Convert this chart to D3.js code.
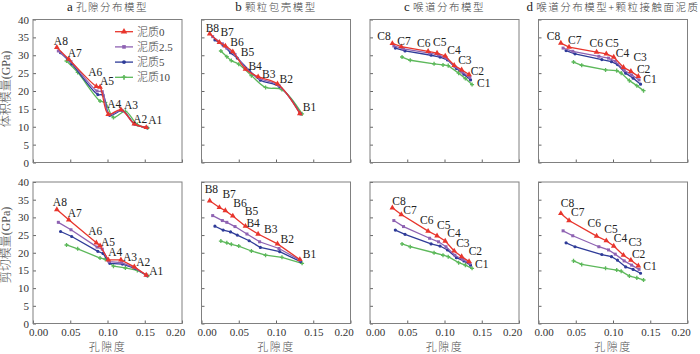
<!DOCTYPE html>
<html>
<head>
<meta charset="utf-8">
<script src="https://cdn.jsdelivr.net/npm/d3@7"></script>
<style>
body { margin: 0; background: #fff; }
svg { display: block; }
</style>
</head>
<body>
<svg id="chart" width="700" height="354"></svg>
<script>
// legend / series
var clayLevels = ["泥质0", "泥质2.5", "泥质5", "泥质10"];
var panelTitles = ["a", "b", "c", "d"];
var panelNames = ["孔隙分布模型", "颗粒包壳模型", "喉道分布模型", "喉道分布模型+颗粒接触面泥质"];
var yTitles = ["体积模量(GPa)", "剪切模量(GPa)"];
var xTitle = "孔隙度";
var xTicks = [0, 0.05, 0.10, 0.15, 0.20];
var yTicks = [0, 5, 10, 15, 20, 25, 30, 35, 40];

var labelsA = ["A8", "A7", "A6", "A5", "A4", "A3", "A2", "A1"];
var labelsB = ["B8", "B7", "B6", "B5", "B4", "B3", "B2", "B1"];
var labelsC = ["C8", "C7", "C6", "C5", "C4", "C3", "C2", "C1"];

// panel a: 孔隙分布模型 (rows: 泥质0, 2.5, 5, 10)
var porosityA = [
    [0.032, 0.048, 0.085, 0.090, 0.101, 0.118, 0.136, 0.152],
    [0.034, 0.051, 0.086, 0.093, 0.102, 0.119, 0.136, 0.152],
    [0.037, 0.052, 0.087, 0.094, 0.103, 0.120, 0.137, 0.153],
    [0.045, 0.060, 0.090, 0.097, 0.108, 0.124, 0.140, 0.154]
];
var bulkA = [
    [32.2, 28.9, 21.3, 21.1, 13.5, 14.8, 10.8, 9.8],
    [31.2, 28.2, 20.0, 19.8, 13.4, 14.6, 10.8, 9.8],
    [30.7, 27.6, 19.0, 18.9, 13.2, 14.5, 10.7, 9.7],
    [28.4, 25.2, 17.2, 16.8, 12.6, 14.3, 10.6, 9.7]
];
var shearA = [
    [32.2, 29.3, 22.8, 22.0, 18.0, 18.0, 16.0, 13.7],
    [28.6, 26.5, 21.6, 21.0, 17.5, 17.2, 15.8, 13.7],
    [26.0, 24.6, 20.4, 19.8, 17.0, 16.8, 15.6, 13.5],
    [22.2, 21.1, 18.5, 18.2, 16.2, 15.7, 15.0, 13.5]
];

// panel b: 颗粒包壳模型
var porosityB = [
    [0.011, 0.024, 0.032, 0.042, 0.059, 0.076, 0.102, 0.132],
    [0.015, 0.028, 0.034, 0.045, 0.061, 0.078, 0.104, 0.132],
    [0.018, 0.029, 0.039, 0.048, 0.064, 0.079, 0.105, 0.133],
    [0.026, 0.034, 0.040, 0.050, 0.067, 0.086, 0.108, 0.135]
];
var bulkB = [
    [36.0, 33.6, 32.6, 31.0, 26.1, 24.0, 22.0, 13.7],
    [35.2, 33.2, 32.0, 30.2, 26.0, 23.5, 21.5, 13.7],
    [34.3, 32.8, 30.7, 29.2, 25.8, 23.0, 21.2, 13.6],
    [31.2, 29.6, 28.5, 27.5, 24.3, 21.0, 20.4, 13.6]
];
var shearB = [
    [34.7, 32.8, 31.9, 30.4, 27.5, 25.3, 22.5, 18.1],
    [30.5, 29.1, 28.6, 27.4, 25.3, 23.1, 21.2, 17.9],
    [27.5, 26.4, 25.9, 25.0, 23.4, 21.5, 20.3, 17.5],
    [23.3, 22.8, 22.4, 21.9, 20.5, 19.3, 18.7, 17.0]
];

// panel c: 喉道分布模型
var porosityC = [
    [0.030, 0.042, 0.078, 0.090, 0.101, 0.113, 0.123, 0.133],
    [0.032, 0.045, 0.080, 0.092, 0.102, 0.114, 0.124, 0.134],
    [0.034, 0.047, 0.082, 0.094, 0.104, 0.116, 0.126, 0.135],
    [0.043, 0.054, 0.086, 0.098, 0.105, 0.119, 0.128, 0.137]
];
var bulkC = [
    [33.3, 32.4, 31.1, 30.6, 29.8, 27.2, 25.9, 24.6],
    [32.6, 31.8, 30.6, 30.1, 29.2, 26.8, 25.3, 23.8],
    [32.0, 31.2, 30.0, 29.5, 28.7, 26.3, 24.7, 23.1],
    [29.5, 28.6, 27.6, 27.3, 27.1, 25.0, 23.5, 21.8]
];
var shearC = [
    [32.7, 30.8, 26.1, 24.8, 23.3, 20.5, 18.9, 17.5],
    [29.1, 27.4, 24.1, 23.1, 21.7, 19.3, 18.1, 17.0],
    [26.4, 25.2, 22.5, 21.9, 20.8, 18.6, 17.7, 16.5],
    [22.5, 21.7, 20.0, 19.3, 18.9, 17.2, 16.5, 15.6]
];

// panel d: 喉道分布模型+颗粒接触面泥质
var porosityD = [
    [0.030, 0.041, 0.078, 0.091, 0.101, 0.114, 0.124, 0.134],
    [0.033, 0.046, 0.081, 0.094, 0.103, 0.115, 0.125, 0.135],
    [0.037, 0.049, 0.085, 0.098, 0.106, 0.117, 0.127, 0.137],
    [0.047, 0.058, 0.090, 0.105, 0.111, 0.122, 0.132, 0.141]
];
var bulkD = [
    [33.4, 32.3, 30.9, 30.4, 29.5, 26.6, 25.5, 24.1],
    [32.0, 31.1, 29.7, 29.2, 28.3, 25.8, 24.5, 23.1],
    [31.3, 30.4, 28.8, 28.2, 27.4, 25.0, 23.6, 21.9],
    [28.1, 27.2, 25.9, 25.7, 25.0, 22.9, 21.5, 20.1]
];
var shearD = [
    [31.1, 29.1, 24.7, 23.4, 21.9, 19.3, 17.9, 16.3],
    [26.2, 24.8, 21.7, 20.8, 19.6, 17.7, 16.5, 15.3],
    [22.8, 21.7, 19.5, 18.9, 17.9, 16.0, 15.3, 14.2],
    [17.7, 16.7, 15.6, 15.1, 14.8, 13.4, 12.9, 12.3]
];

// label nudges (px, relative to the 泥质0 point)
var nudgeTop = [
    [[-3, -2], [-1, -2], [-8, -10], [0, -2], [-1, -6], [3, -1], [-1, -1], [2, -3]],
    [[-4, -2], [1, -6], [5, 0], [8, 4], [3, 1], [4, 1], [2, -1], [3, -3]],
    [[-15, -3], [-4, -2], [-11, -4], [-4, -7], [2, -2], [4, -1], [9, 5], [8, 12]],
    [[-14, -3], [-1, -3], [-7, -5], [-1, -7], [2, 0], [10, -6], [6, 2], [5, 7]]
];
var nudgeBottom = [
    [[-4, -4], [-1, -3], [-8, -8], [1, 0], [0, -4], [2, 1], [2, -1], [3, 0]],
    [[-5, -8], [3, -9], [8, -4], [12, -1], [1, 1], [6, -1], [3, -1], [3, -1]],
    [[0, -3], [2, -1], [-8, -7], [0, -7], [2, -4], [2, -4], [7, -2], [6, 6]],
    [[0, -6], [2, -5], [-9, -9], [-2, -8], [0, -4], [5, -9], [1, -2], [5, 4]]
];

var colors = ["#e8352c", "#8e62b2", "#2e3b98", "#5cb85a"];
var symbols = [d3.symbolTriangle, d3.symbolSquare, d3.symbolCircle, d3.symbolCross];
var symbolSizes = [14, 9, 8, 9];
var serif = "'Liberation Serif', 'DejaVu Serif', 'Noto Sans CJK SC', serif";

var panels = [
    {porosity: porosityA, rows: [bulkA, shearA], labels: labelsA, smooth: true},
    {porosity: porosityB, rows: [bulkB, shearB], labels: labelsB, smooth: true},
    {porosity: porosityC, rows: [bulkC, shearC], labels: labelsC, smooth: false},
    {porosity: porosityD, rows: [bulkD, shearD], labels: labelsC, smooth: false}
];

var svg = d3.select("#chart");
var plotW = 149;
var rowBox = [{top: 19.5, h: 143}, {top: 182, h: 141.5}];

panels.forEach(function(p, i) {
    var left = 33 + i * 168.5;
    var x = d3.scaleLinear().domain([0, 0.2]).range([left, left + plotW]);

    // title
    var t = svg.append("text")
        .attr("x", left + plotW / 2)
        .attr("y", 11)
        .attr("text-anchor", "middle")
        .attr("fill", "#444")
        .style("font-family", serif);
    t.append("tspan").style("font-size", "13px").attr("fill", "#222").text(panelTitles[i] + " ");
    t.append("tspan").style("font-size", "10.5px").style("font-weight", "300")
        .style("letter-spacing", "1.5px").text(panelNames[i]);

    [0, 1].forEach(function(r) {
        var box = rowBox[r];
        var y = d3.scaleLinear().domain([0, 40]).range([box.top + box.h, box.top]);
        var g = svg.append("g");

        var yAxis = d3.axisLeft(y).tickValues(yTicks).tickSizeInner(-3).tickSizeOuter(0).tickPadding(4);
        if (i > 0) yAxis.tickFormat("");
        g.append("g")
            .attr("transform", `translate(${left},0)`)
            .call(yAxis)
            .call(a => a.select(".domain").remove());

        var xAxis = d3.axisBottom(x).tickValues(xTicks).tickSizeInner(-3).tickSizeOuter(0).tickPadding(5)
            .tickFormat(r == 1 ? d3.format(".2f") : "");
        var xg = g.append("g")
            .attr("transform", `translate(0,${box.top + box.h})`)
            .call(xAxis)
            .call(a => a.select(".domain").remove());
        xg.selectAll(".tick text")
            .attr("dx", (d, k) => k == 0 ? 5 : (k == xTicks.length - 1 ? -7 : 0));

        g.selectAll(".tick line").attr("stroke", "#666");
        g.selectAll(".tick text")
            .attr("fill", "#333")
            .style("font-family", serif)
            .style("font-size", "11px");

        g.append("rect")
            .attr("x", left)
            .attr("y", box.top)
            .attr("width", plotW)
            .attr("height", box.h)
            .attr("fill", "none")
            .attr("stroke", "#808080")
            .attr("stroke-width", 1);

        var line = d3.line()
            .x(d => x(d[0]))
            .y(d => y(d[1]))
            .curve(p.smooth && r == 0 ? d3.curveCatmullRom.alpha(0.5) : d3.curveLinear);

        // draw 泥质10 first so 泥质0 lands on top
        d3.range(3, -1, -1).forEach(function(s) {
            var pts = p.porosity[s].map((v, k) => [v, p.rows[r][s][k]]);
            g.append("path")
                .datum(pts)
                .attr("fill", "none")
                .attr("stroke", colors[s])
                .attr("stroke-width", 1.3)
                .attr("d", line);
            g.selectAll(null)
                .data(pts)
                .enter().append("path")
                .attr("transform", d => `translate(${x(d[0])},${y(d[1])})`)
                .attr("d", d3.symbol().type(symbols[s]).size(symbolSizes[s]))
                .attr("fill", colors[s]);
        });

        var nudges = r == 0 ? nudgeTop[i] : nudgeBottom[i];
        g.selectAll(null)
            .data(p.labels)
            .enter().append("text")
            .attr("x", (d, k) => x(p.porosity[0][k]) + nudges[k][0])
            .attr("y", (d, k) => y(p.rows[r][0][k]) + nudges[k][1])
            .attr("fill", "#222")
            .style("font-family", serif)
            .style("font-size", "11.5px")
            .text(d => d);
    });

    // x title under bottom row
    svg.append("text")
        .attr("x", left + plotW / 2)
        .attr("y", 351)
        .attr("text-anchor", "middle")
        .attr("fill", "#555")
        .style("font-family", serif)
        .style("font-size", "11px")
        .style("font-weight", "300")
        .style("letter-spacing", "1.5px")
        .text(xTitle);
});

// y titles
[89, 245].forEach(function(cy, r) {
    svg.append("text")
        .attr("transform", `translate(10,${cy}) rotate(-90)`)
        .attr("text-anchor", "middle")
        .attr("fill", "#555")
        .style("font-family", serif)
        .style("font-size", "12px")
        .style("font-weight", "300")
        .text(yTitles[r]);
});

// legend in panel a (top)
var legend = svg.append("g");
clayLevels.forEach(function(name, s) {
    var ly = 31.7 + s * 15.2;
    legend.append("line")
        .attr("x1", 115).attr("x2", 133)
        .attr("y1", ly).attr("y2", ly)
        .attr("stroke", colors[s])
        .attr("stroke-width", 1.3);
    legend.append("path")
        .attr("transform", `translate(124,${ly})`)
        .attr("d", d3.symbol().type(symbols[s]).size(symbolSizes[s] + 4))
        .attr("fill", colors[s]);
    legend.append("text")
        .attr("x", 137)
        .attr("y", ly)
        .attr("dy", "0.35em")
        .attr("fill", "#444")
        .style("font-family", serif)
        .style("font-size", "11px")
        .style("font-weight", "300")
        .text(name);
});
</script>
</body>
</html>
